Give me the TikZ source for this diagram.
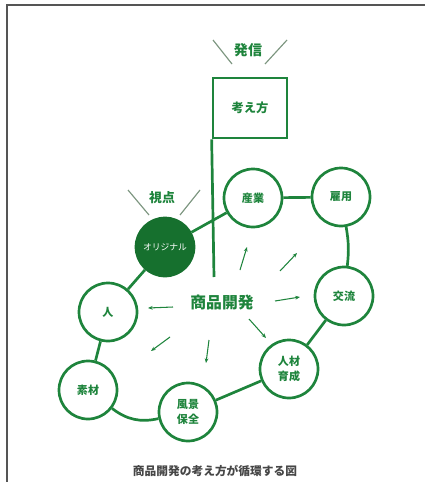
\documentclass[tikz,border=0pt]{standalone}
\usepackage{fontspec}
\setmainfont{Noto Sans CJK JP}
\usetikzlibrary{arrows.meta}

\definecolor{ringgreen}{RGB}{30,132,60}
\definecolor{deepgreen}{RGB}{22,112,46}
\definecolor{slashgray}{RGB}{125,150,128}
\definecolor{framegray}{RGB}{85,85,85}
\definecolor{captiongray}{RGB}{70,70,70}

\begin{document}
\begin{tikzpicture}[
x=0.03cm, y=-0.03cm,
ring/.style={draw=ringgreen, line width=2.3pt, circle, minimum size=1.74cm, inner sep=0pt, align=center, text=ringgreen, font=\fontsize{9.4}{12.5}\selectfont\bfseries},
link/.style={draw=ringgreen, line width=2.3pt},
slash/.style={draw=slashgray, line width=1pt},
arrow/.style={-{Stealth[length=4pt, width=3.2pt]}, draw=ringgreen, line width=0.9pt},
label/.style={text=ringgreen, inner sep=1pt, font=\fontsize{12}{14}\selectfont\bfseries}
]
\useasboundingbox (0,0) rectangle (425,482);

% frame
\draw[framegray, line width=1.5pt] (7,482) -- (7,5) -- (425,5);

% flag
\node[label] (hassin) at (248,50) {発信};
\node[draw=ringgreen, line width=2.3pt, minimum width=2.22cm, minimum height=1.8cm, text=ringgreen, font=\fontsize{10.5}{12}\selectfont\bfseries] (idea) at (250,108) {考え方};
\coordinate (poleend) at (214,277);
\draw[link] (idea.south west) -- (poleend);

\draw[slash] (hassin.center) ++(-35,-10) -- ++(19,24);
\draw[slash] (hassin.center) ++(17,14) -- ++(22,-24);

% ring
\node[ring, fill=deepgreen, draw=deepgreen, text=white, font=\fontsize{7.5}{9}\selectfont] (original) at (165,247) {オリジナル};
\node[ring] (sangyo) at (253,198) {産業};
\node[ring] (koyo) at (341,197) {雇用};
\node[ring] (koryu) at (344,296) {交流};
\node[ring] (jinzai) at (289,369) {人材\\育成};
\node[ring] (fukei) at (188,412) {風景\\保全};
\node[ring] (sozai) at (88,390) {素材};
\node[ring] (hito) at (108,312) {人};

\node[label, font=\fontsize{11}{13}\selectfont\bfseries] (shiten) at (162,198) {視点};
\draw[slash] (shiten.center) ++(-34,-8) -- ++(21,25);
\draw[slash] (shiten.center) ++(18,17) -- ++(20,-25);

\draw[link] (original) -- (sangyo);
\draw[link] (sangyo) -- (koyo);
\draw[link] (koyo) to[bend left=8] (koryu);
\draw[link] (koryu) -- (jinzai);
\draw[link] (jinzai) -- (fukei);
\draw[link] (fukei) to[bend left=25] (sozai);
\draw[link] (sozai) -- (hito);
\draw[link] (hito) -- (original);

% centre
\node[label, font=\fontsize{13.5}{15}\selectfont\bfseries] (product) at (222,303) {商品開発};
\foreach \tx/\ty/\dx/\dy in {18/-33/7/-23, 58/-32/17/-18, 53/-2/25/-4, 27/16/17/19, -13/37/-3/23, -52/34/-19/14, -49/4/-25/1}
  \draw[arrow] (product.center) ++(\tx,\ty) -- ++(\dx,\dy);

\node[text=captiongray, font=\fontsize{10}{12}\selectfont\bfseries] (caption) at (215,471) {商品開発の考え方が循環する図};

\end{tikzpicture}
\end{document}
